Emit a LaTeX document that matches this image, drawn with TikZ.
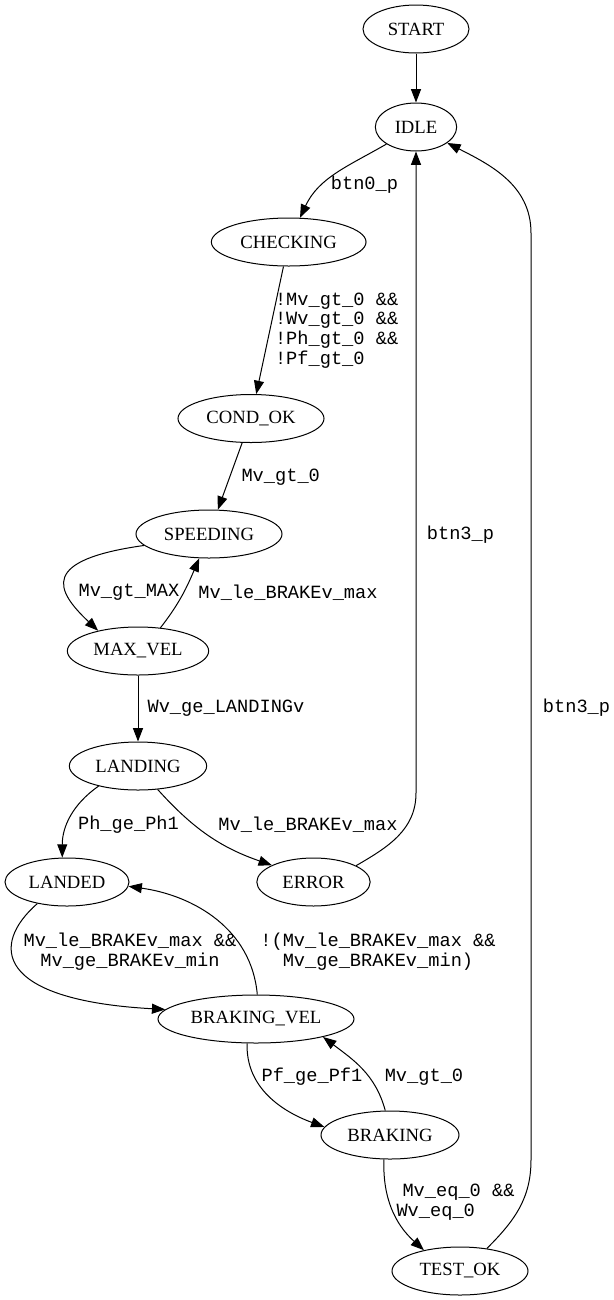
\documentclass[tikz,border=0pt]{standalone}
\usepackage{fontspec}
\setmainfont{Liberation Serif}
\newfontfamily\edgefont{Liberation Mono}
\usetikzlibrary{arrows.meta, shapes.geometric}

\tikzset{
	state/.style={draw, ellipse, minimum height=36pt, inner sep=1pt, line width=0.75pt, 
	font=\fontsize{14}{16}\selectfont},
	edge/.style={-{Triangle[length=10pt,width=7.5pt]}, line width=0.75pt},
	lbl/.style={inner sep=0pt, font=\edgefont\fontsize{14}{14.85}\selectfont}
}

\begin{document}
\begin{tikzpicture}[x=0.75pt, y=-0.75pt]
		\useasboundingbox (0,0) rectangle (614,1300);
		
		%States of the machine
		\node (Start) at (416,29) [state, minimum width=79.5pt]{START};
		\node (Idle) at (416,127) [state, minimum width=61pt]{IDLE};
		\node (Checking) at (288.7,242) [state, minimum width=116pt]{CHECKING};
		\node (Cond OK) at (251,418.5) [state, minimum width=109.5pt]{COND\_OK};
		\node (Speeding) at (209,534) [state, minimum width=109.5pt]{SPEEDING};
		\node (Max Vel) at (138,651) [state, minimum width=106pt]{MAX\_VEL};
		\node (Landing) at (138,766) [state, minimum width=103pt]{LANDING};
		\node (Landed) at (67,882) [state, minimum width=93pt]{LANDED};
		\node (Error) at (313.5,882) [state, minimum width=85pt]{ERROR};
		\node (Braking Vel) at (256,1019) [state, minimum width=147pt]{BRAKING\_VEL};
		\node (Braking) at (390,1135) [state, minimum width=103.5pt]{BRAKING};
		\node (Test OK) at (460,1271) [state, minimum width=102pt]{TEST\_OK};
		
		%Transitions from start to landing
		\draw[edge] (Start) -- (Idle);
		\draw[edge] (Idle.210) to[out=210,in=65] (Checking.65) node (l btn0) at (364.5,185) 
		[lbl]{btn0\_p};
		\draw[edge] (Checking) -- (Cond OK) node (l cond) at (274.5,330.4) [lbl, anchor=west, 
		align=left]{!Mv\_gt\_0 \&\&\\!Wv\_gt\_0 \&\&\\!Ph\_gt\_0 \&\&\\!Pf\_gt\_0};
		\draw[edge] (Cond OK) -- (Speeding) node (l mv1) at (280.75,476.7) [lbl]{Mv\_gt\_0};
		\draw[edge] (Speeding.190) .. controls (40,560) and (55,590) .. (Max Vel.153) 
		node (l max) at (129,592.7) [lbl]{Mv\_gt\_MAX};
		\draw[edge] (Max Vel.46) to[out=52,in=247] (Speeding.248) node (l brk1) at (288,592.7) 
		[lbl]{Mv\_le\_BRAKEv\_max};
		\draw[edge] (Max Vel) -- (Landing) node (l land) at (226,708) [lbl]{Wv\_ge\_LANDINGv};
		
		%Transitions after landing
		\draw[edge] (Landing.207) to[out=215,in=90] (Landed.101) node (l ph) at (128.5,825) 
		[lbl]{Ph\_ge\_Ph1};
		\draw[edge] (Landing.-50) to[out=-48,in=161] (Error.158) node (l brk2) at (308,825) 
		[lbl]{Mv\_le\_BRAKEv\_max};
		\draw[edge] (Error.21) to[out=30,in=-90] (416,793) -- (Idle) node (l btn3a) at (460.5,535) 
		[lbl]{btn3\_p};
		\draw[edge] (Landed.216) .. controls (-10,945) and (-5,1000) .. (Braking Vel.174) 
		node (l both) at (130,951.4) [lbl, align=center]{Mv\_le\_BRAKEv\_max \&\&\\Mv\_ge\_BRAKEv\_min};
		\draw[edge] (Braking Vel.87) to[out=95,in=-8] (Landed.-4) node (l notboth) at (378,951.4) 
		[lbl, align=center]{!(Mv\_le\_BRAKEv\_max \&\&\\Mv\_ge\_BRAKEv\_min)};
		
		%Braking loop and test
		\draw[edge] (Braking Vel.250) to[out=-92,in=160] (Braking.173) node (l pf) at (312,1077) 
		[lbl]{Pf\_ge\_Pf1};
		\draw[edge] (Braking.101) to[out=105,in=-37] (Braking Vel.-15) node (l mv2) at (424,1077) 
		[lbl]{Mv\_gt\_0};
		\draw[edge] (Braking.256) to[out=-92,in=138] (Test OK.150) node (l eq) at (396,1202.5) 
		[lbl, anchor=west, align=left]{\hspace*{4.5pt}Mv\_eq\_0 \&\&\\Wv\_eq\_0};
		\draw[edge] (Test OK.40) to[out=45,in=-90] (531,1160) -- (531,233) to[out=90,in=-27] 
		(Idle.-27) node (l btn3b) at (576.5,708) [lbl]{btn3\_p};
		
\end{tikzpicture}
\end{document}
